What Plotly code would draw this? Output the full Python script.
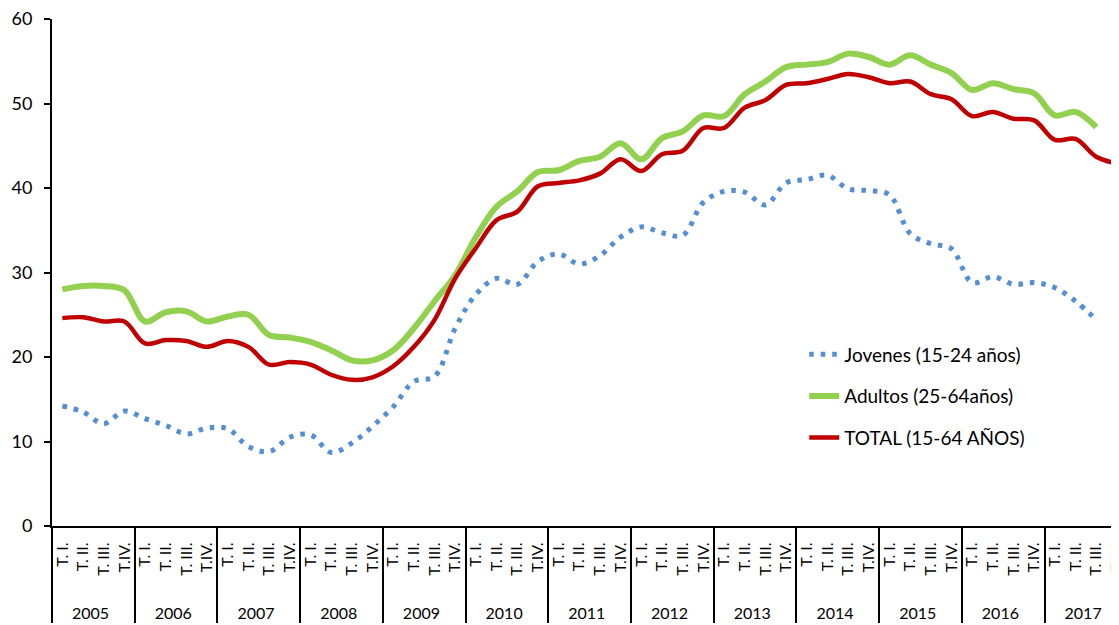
import plotly.graph_objects as go

# Quarterly series 2005 T.I .. 2017 T.IV (52 quarters)
years = [str(y) for y in range(2005, 2018)]
quarters = ["T. I.", "T. II.", "T. III.", "T.IV."]

jovenes = [
    14.2, 13.5, 12.1, 13.6, 12.7, 11.9, 10.9, 11.6,
    11.5, 9.4, 8.8, 10.5, 10.8, 8.7, 9.8, 11.8,
    14.1, 17.1, 17.7, 23.4, 27.4, 29.3, 28.6, 31.3,
    32.2, 31.0, 32.0, 34.2, 35.4, 34.7, 34.4, 38.3,
    39.6, 39.5, 38.0, 40.6, 41.0, 41.5, 39.9, 39.7,
    39.2, 34.6, 33.4, 32.8, 28.8, 29.5, 28.6, 28.8,
    28.2, 26.6, 24.4, None,
]
adultos = [
    28.0, 28.4, 28.4, 27.9, 24.2, 25.3, 25.4, 24.2,
    24.8, 25.0, 22.6, 22.3, 21.8, 20.8, 19.6, 19.6,
    20.8, 23.4, 26.6, 29.7, 34.2, 37.8, 39.6, 41.9,
    42.1, 43.2, 43.7, 45.3, 43.4, 45.9, 46.7, 48.6,
    48.5, 51.1, 52.6, 54.3, 54.6, 54.9, 55.9, 55.5,
    54.6, 55.7, 54.6, 53.6, 51.6, 52.4, 51.7, 51.2,
    48.6, 49.0, 47.2, None,
]
total = [
    24.6, 24.7, 24.2, 24.2, 21.6, 22.0, 21.9, 21.2,
    21.9, 21.2, 19.1, 19.4, 19.1, 17.9, 17.3, 17.6,
    18.9, 21.2, 24.4, 29.3, 32.9, 36.2, 37.2, 40.2,
    40.6, 40.9, 41.7, 43.4, 42.0, 44.0, 44.4, 47.1,
    47.1, 49.5, 50.4, 52.2, 52.4, 52.9, 53.5, 53.1,
    52.4, 52.6, 51.1, 50.5, 48.5, 49.0, 48.2, 48.0,
    45.7, 45.8, 43.7, 42.9,
]

# leading no-break spaces push the year row further down, as in the original
pad = "\u00a0" * 5
x = [
    [y for y in years for _ in quarters],
    [pad + q for _ in years for q in quarters],
]

FONT = "Lato"

fig = go.Figure()
fig.add_trace(go.Scatter(
    x=x, y=jovenes, mode="lines", name="Jovenes (15-24 años)",
    legendgroup="a",
    line=dict(color="#558ED5", width=5, dash="4.5px,7px", shape="spline"),
))
fig.add_trace(go.Scatter(
    x=x, y=adultos, mode="lines", name="Adultos (25-64años)",
    legendgroup="b",
    line=dict(color="#92D050", width=6, shape="spline"),
))
fig.add_trace(go.Scatter(
    x=x, y=total, mode="lines", name="TOTAL (15-64 AÑOS)",
    legendgroup="c",
    line=dict(color="#C00000", width=4.5, shape="spline"),
))

# the page body adds an 8px offset, so the figure is drawn 8px smaller
fig.update_layout(
    width=1111,
    height=617,
    margin=dict(l=44, r=0, t=11, b=99),
    plot_bgcolor="white",
    paper_bgcolor="white",
    font=dict(family=FONT, size=18, color="black"),
    showlegend=True,
    legend=dict(
        x=0.705, y=0.376, xanchor="left", yanchor="top",
        font=dict(family=FONT, size=19, color="black"),
        traceorder="grouped",
        tracegroupgap=14,
        bgcolor="rgba(0,0,0,0)",
    ),
    xaxis=dict(
        type="multicategory",
        range=[-0.5, 51.1],
        showline=True, linecolor="black", linewidth=2,
        ticks="",
        tickangle=-90,
        tickfont=dict(family=FONT, size=16),
        ticklabelstandoff=8,
        showdividers=True, dividercolor="black", dividerwidth=2,
        showgrid=False, zeroline=False,
    ),
    yaxis=dict(
        range=[0, 60],
        tickvals=[0, 10, 20, 30, 40, 50, 60],
        showline=True, linecolor="black", linewidth=2,
        ticks="outside", ticklen=6, tickwidth=2, tickcolor="black",
        ticklabelstandoff=8,
        ticklabeloverflow="allow",
        showgrid=False, zeroline=False,
    ),
)

fig.write_html("out.html")
